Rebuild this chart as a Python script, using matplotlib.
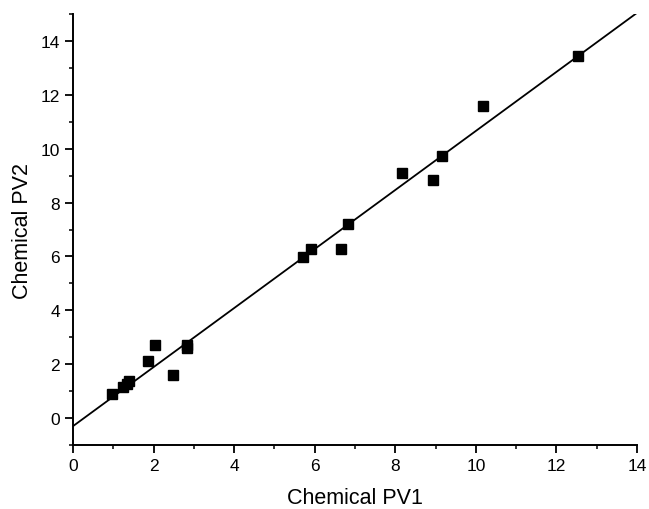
import numpy as np
import matplotlib
matplotlib.use("Agg")
import matplotlib.pyplot as plt
from matplotlib.ticker import MultipleLocator

plt.rcParams["font.family"] = ["Liberation Sans", "DejaVu Sans"]

# Data
pv1 = [0.97, 1.24, 1.35, 1.40, 1.86, 2.03, 2.48, 2.83, 2.84,
       5.71, 5.90, 6.65, 6.82, 8.16, 8.93, 9.16, 10.17, 12.53]
pv2 = [0.89, 1.15, 1.28, 1.38, 2.12, 2.71, 1.60, 2.70, 2.60,
       5.99, 6.28, 6.28, 7.20, 9.10, 8.85, 9.74, 11.60, 13.46]

# fitted line endpoints (x range of the line)
line_x = [0, 14]
slope, intercept = 1.096, -0.30

fig = plt.figure(figsize=(6.49, 5.10), dpi=100)
ax = fig.add_axes([0.1125, 0.1255, 0.869, 0.845])

ax.plot(line_x, [slope * x + intercept for x in line_x], color="black", lw=1.3)
ax.plot(pv1, pv2, "s", color="black", markersize=7.5, clip_on=False)

ax.set_xlim(0, 14)
ax.set_ylim(-1, 15)
ax.xaxis.set_major_locator(MultipleLocator(2))
ax.xaxis.set_minor_locator(MultipleLocator(1))
ax.yaxis.set_minor_locator(MultipleLocator(1))
ax.set_yticks([0, 2, 4, 6, 8, 10, 12, 14])

for s in ["top", "right"]:
    ax.spines[s].set_visible(False)
for s in ["left", "bottom"]:
    ax.spines[s].set_linewidth(1.4)

ax.tick_params(which="major", direction="out", length=6, width=1.3, labelsize=12.5)
ax.tick_params(which="minor", direction="out", length=3, width=1.1)

ax.set_xlabel("Chemical PV1", fontsize=15.5, labelpad=10)
ax.set_ylabel("Chemical PV2", fontsize=15.5, labelpad=5)

fig.savefig("out.png", dpi=100)
